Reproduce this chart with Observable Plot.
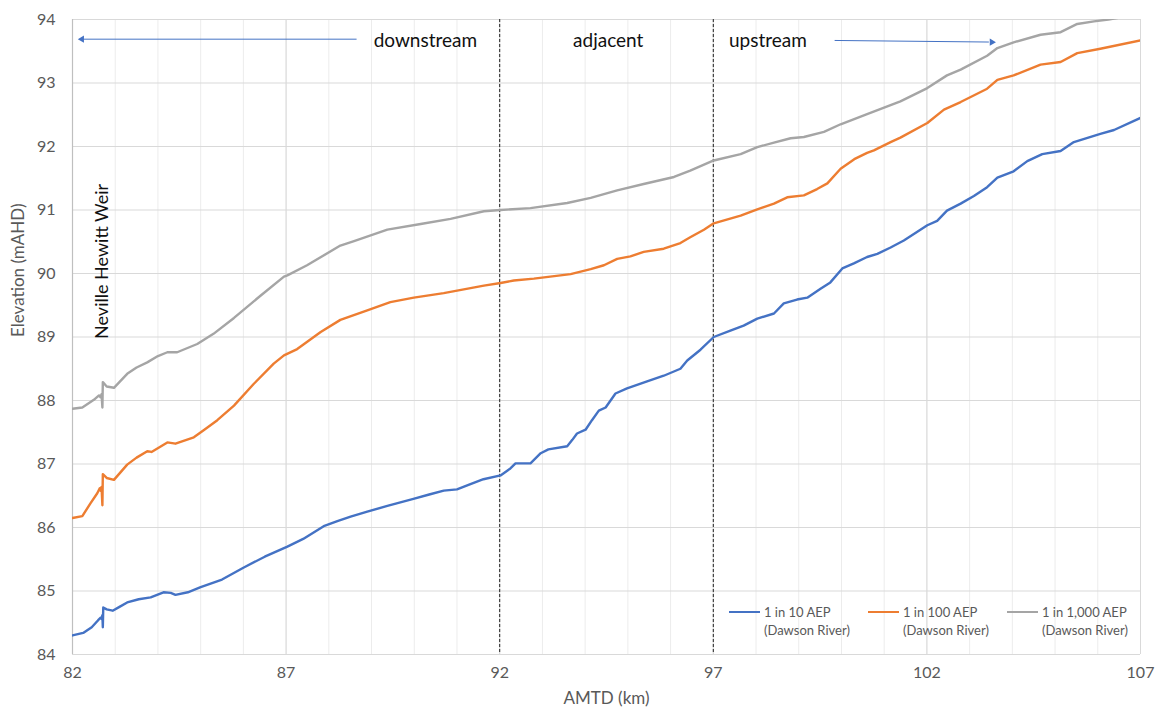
<!DOCTYPE html>
<html><head><meta charset="utf-8">
<script src="https://cdn.jsdelivr.net/npm/d3@7"></script>
<script src="https://cdn.jsdelivr.net/npm/@observablehq/plot@0.6"></script>
<style>
body{margin:0;background:#fff;font-family:Lato,"Open Sans",sans-serif;}
#wrap{position:relative;width:1164px;height:712px;}
.item{position:absolute;top:603px;display:flex;font-size:13px;line-height:18px;color:#595959;font-family:Lato,sans-serif;}
.sw{width:31px;height:0;border-top:2.5px solid;margin-top:8px;margin-right:4px;}
</style></head>
<body><div id="wrap"></div>
<script>
// ---- data ----
const seriesNames = ["1 in 10 AEP", "1 in 100 AEP", "1 in 1,000 AEP"];
const seriesSub = ["(Dawson River)", "(Dawson River)", "(Dawson River)"];
const seriesColors = ["#4472C4", "#ED7D31", "#A5A5A5"];

const aep10 = [[82.0,84.30],[82.25,84.34],[82.45,84.43],[82.6,84.54],[82.66,84.58],[82.68,84.56],[82.70,84.62],[82.71,84.43],[82.72,84.74],[82.80,84.71],[82.94,84.69],[83.1,84.75],[83.28,84.82],[83.55,84.87],[83.83,84.90],[84.13,84.98],[84.3,84.97],[84.41,84.94],[84.7,84.98],[85.0,85.06],[85.5,85.18],[86.01,85.37],[86.5,85.54],[87.03,85.70],[87.4,85.82],[87.88,86.02],[88.2,86.10],[88.51,86.17],[88.9,86.25],[89.37,86.34],[89.98,86.45],[90.35,86.52],[90.69,86.58],[91.0,86.60],[91.3,86.68],[91.62,86.76],[92.02,86.82],[92.25,86.93],[92.37,87.01],[92.72,87.01],[92.96,87.17],[93.14,87.23],[93.58,87.28],[93.70,87.38],[93.81,87.48],[94.01,87.54],[94.16,87.69],[94.32,87.84],[94.48,87.89],[94.71,88.11],[94.98,88.19],[95.45,88.30],[95.84,88.39],[96.23,88.50],[96.39,88.63],[96.70,88.80],[97.01,89.00],[97.40,89.10],[97.71,89.18],[98.03,89.29],[98.42,89.37],[98.65,89.53],[98.96,89.59],[99.20,89.62],[99.51,89.76],[99.74,89.86],[100.02,90.08],[100.29,90.16],[100.6,90.26],[100.84,90.31],[101.15,90.41],[101.46,90.52],[102.01,90.76],[102.24,90.83],[102.47,90.99],[102.79,91.10],[103.1,91.22],[103.41,91.36],[103.65,91.51],[104.03,91.61],[104.35,91.77],[104.70,91.88],[105.13,91.93],[105.44,92.07],[106.06,92.20],[106.38,92.26],[107.0,92.45]];

const aep100 = [[82.0,86.15],[82.23,86.18],[82.42,86.38],[82.58,86.54],[82.64,86.62],[82.66,86.58],[82.68,86.64],[82.70,86.35],[82.71,86.84],[82.8,86.78],[82.97,86.75],[83.28,86.99],[83.5,87.10],[83.75,87.20],[83.85,87.19],[84.22,87.34],[84.41,87.32],[84.84,87.42],[85.07,87.53],[85.39,87.69],[85.78,87.92],[86.24,88.26],[86.71,88.58],[86.95,88.71],[87.26,88.81],[87.81,89.08],[88.27,89.27],[88.90,89.42],[89.44,89.55],[89.99,89.62],[90.69,89.69],[91.63,89.81],[92.02,89.85],[92.33,89.89],[92.80,89.92],[93.66,89.99],[94.13,90.07],[94.44,90.13],[94.75,90.23],[95.06,90.27],[95.37,90.34],[95.84,90.39],[96.23,90.48],[96.46,90.57],[96.78,90.69],[97.01,90.79],[97.64,90.91],[98.03,91.01],[98.42,91.10],[98.73,91.20],[99.12,91.23],[99.43,91.33],[99.67,91.42],[99.98,91.65],[100.3,91.80],[100.6,91.90],[100.76,91.94],[101.15,92.07],[101.38,92.14],[102.01,92.37],[102.40,92.58],[102.79,92.70],[103.41,92.91],[103.65,93.05],[104.03,93.12],[104.66,93.29],[105.13,93.33],[105.52,93.47],[106.06,93.54],[107.0,93.67]];

const aep1000 = [[82.0,87.87],[82.23,87.89],[82.5,88.01],[82.62,88.08],[82.66,88.05],[82.68,88.10],[82.70,87.89],[82.71,88.29],[82.8,88.22],[82.97,88.20],[83.28,88.42],[83.5,88.52],[83.75,88.60],[84.0,88.70],[84.22,88.76],[84.45,88.76],[84.92,88.89],[85.3,89.05],[85.78,89.30],[86.40,89.65],[86.95,89.95],[87.03,89.97],[87.49,90.13],[88.27,90.44],[88.59,90.51],[89.37,90.69],[90.15,90.78],[90.85,90.86],[91.63,90.98],[92.02,91.00],[92.72,91.03],[93.58,91.11],[94.13,91.19],[94.75,91.31],[95.37,91.41],[96.08,91.52],[96.46,91.62],[97.01,91.78],[97.64,91.88],[98.03,91.99],[98.42,92.06],[98.81,92.13],[99.12,92.15],[99.59,92.23],[99.98,92.35],[100.6,92.51],[101.15,92.65],[101.38,92.71],[102.01,92.92],[102.47,93.12],[102.79,93.21],[103.41,93.43],[103.65,93.55],[104.03,93.64],[104.66,93.76],[105.13,93.80],[105.52,93.93],[105.91,93.97],[106.25,94.00],[106.6,94.04],[107.0,94.08]];

const xTicks = [82, 87, 92, 97, 102, 107];
const yTicks = [84, 85, 86, 87, 88, 89, 90, 91, 92, 93, 94];
const minorKm = d3.range(82, 108, 1);
const zoneBounds = [92, 97];
const zoneLabels = [
  {label: "downstream", km: 90.26, elev: 93.67},
  {label: "adjacent", km: 94.54, elev: 93.67},
  {label: "upstream", km: 98.28, elev: 93.67}
];
const arrows = [
  {x1: 88.65, y1: 93.69, x2: 82.25, y2: 93.69, hx: 82.22, hy: 93.69, rot: -90},
  {x1: 99.84, y1: 93.67, x2: 103.45, y2: 93.645, hx: 103.52, hy: 93.643, rot: 90}
];
const weir = [{label: "Neville Hewitt Weir", km: 82.7, elev: 90.19}];

// ---- build ----
const allSeries = [aep10, aep100, aep1000];
const rows = allSeries.flatMap((s, i) => s.map(([km, elev]) => ({series: seriesNames[i], km, elev})));

const chart = Plot.plot({
  width: 1164, height: 712,
  marginLeft: 72, marginRight: 24, marginTop: 19, marginBottom: 58,
  style: {fontFamily: "Lato, 'Open Sans', sans-serif", fontSize: "16px", color: "#595959", background: "#fff"},
  x: {domain: [82, 107]},
  y: {domain: [84, 94]},
  color: {domain: seriesNames, range: seriesColors},
  marks: [
    Plot.ruleX(minorKm, {stroke: "#ececec", strokeWidth: 1}),
    Plot.ruleX(xTicks, {stroke: "#d9d9d9", strokeWidth: 1}),
    Plot.ruleY(yTicks, {stroke: "#d9d9d9", strokeWidth: 1}),
    Plot.ruleX([82], {stroke: "#bfbfbf", strokeWidth: 1.2}),
    Plot.ruleX(zoneBounds, {stroke: "#222", strokeDasharray: "3,2", strokeWidth: 1}),
    Plot.axisX(xTicks, {tickSize: 0, tickPadding: 12, label: null, fill: "#595959", fontSize: 16, tickFormat: d3.format("d")}),
    Plot.axisY(yTicks, {tickSize: 0, tickPadding: 17, label: null, fill: "#595959", fontSize: 16, tickFormat: d3.format("d")}),
    Plot.text(["AMTD (km)"], {frameAnchor: "bottom", dy: 49, fontSize: 17, fill: "#595959"}),
    Plot.text(["Elevation (mAHD)"], {frameAnchor: "left", dx: -54, rotate: -90, fontSize: 17, fill: "#595959"}),
    Plot.line(rows, {x: "km", y: "elev", z: "series", stroke: "series", strokeWidth: 2.4, clip: true, strokeLinejoin: "round"}),
    Plot.text(zoneLabels, {x: "km", y: "elev", text: "label", fontSize: 19, fill: "#111"}),
    Plot.link(arrows, {x1: "x1", y1: "y1", x2: "x2", y2: "y2", stroke: "#4472C4", strokeWidth: 1}),
    Plot.dot(arrows, {x: "hx", y: "hy", symbol: "triangle2", r: 3.4, fill: "#4472C4", rotate: "rot"}),
    Plot.text(weir, {x: "km", y: "elev", text: "label", rotate: -90, fontSize: 18, fill: "#111"})
  ]
});

const wrap = document.getElementById("wrap");
wrap.appendChild(chart);

// legend inside plot area
const legendLeft = [729, 868, 1007];
seriesNames.forEach((name, i) => {
  const it = document.createElement("div");
  it.className = "item";
  it.style.left = legendLeft[i] + "px";
  const sw = document.createElement("div");
  sw.className = "sw";
  sw.style.borderTopColor = seriesColors[i];
  const tx = document.createElement("div");
  tx.innerHTML = name + "<br>" + seriesSub[i];
  it.appendChild(sw); it.appendChild(tx);
  wrap.appendChild(it);
});
</script>
</body></html>
